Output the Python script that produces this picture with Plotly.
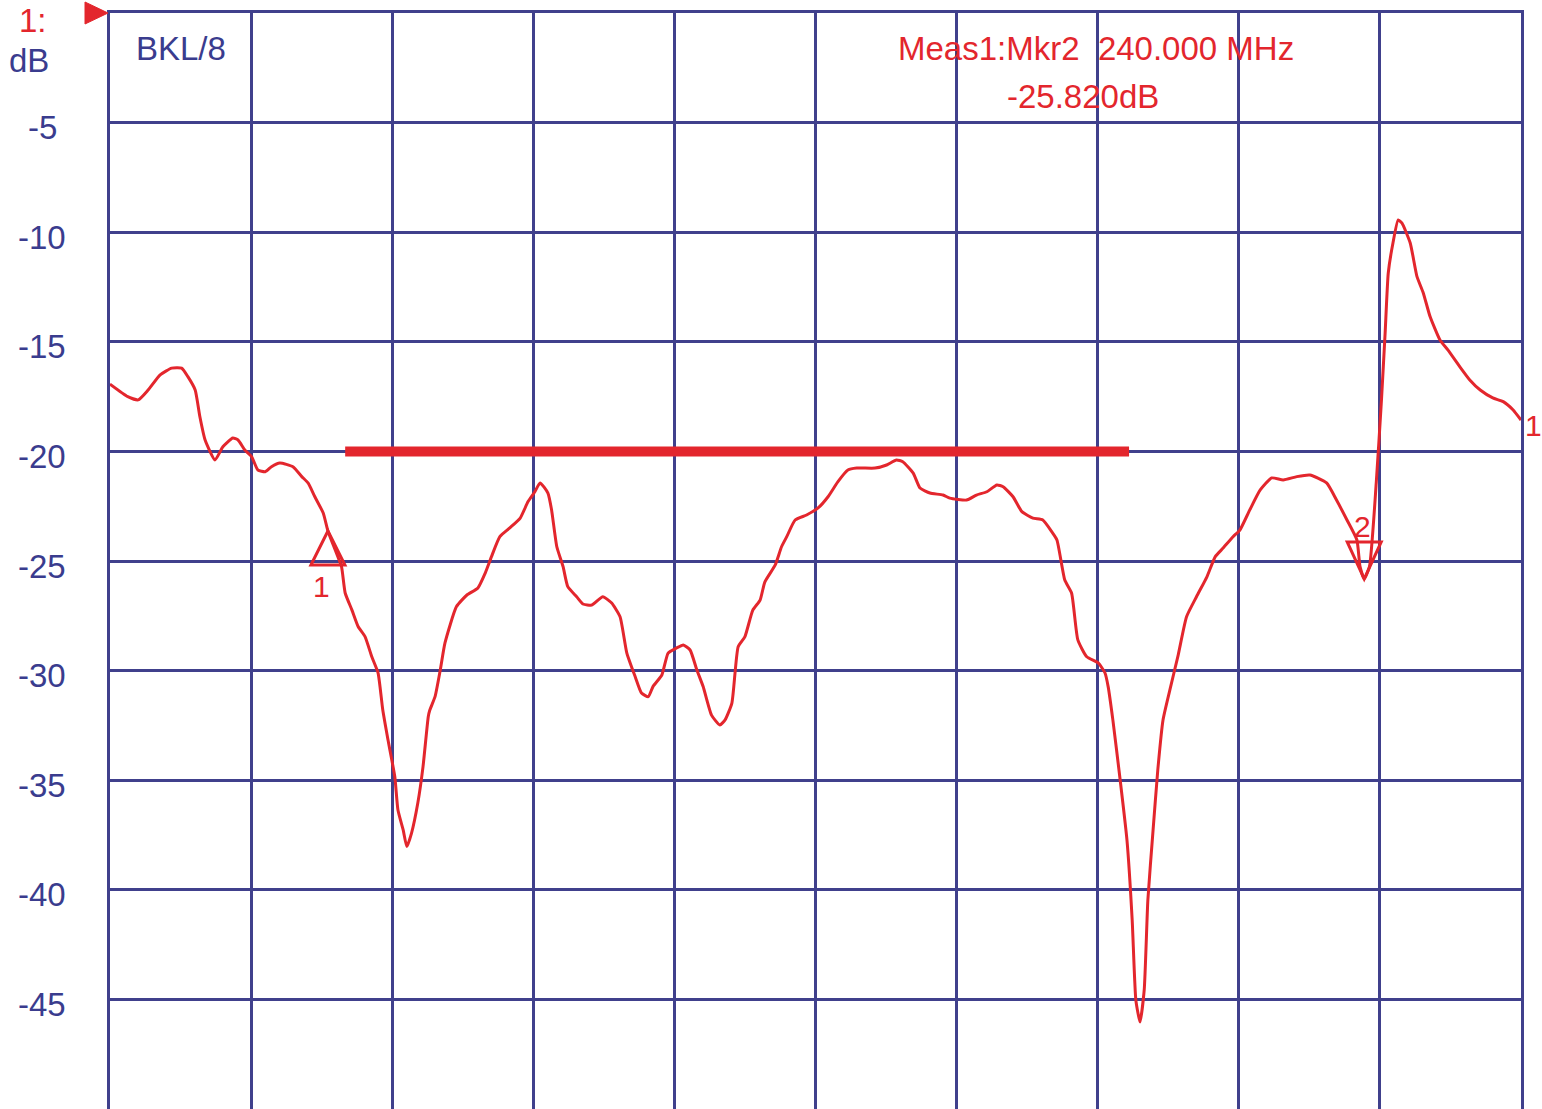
import plotly.graph_objects as go

# ---- data ----
freq_mhz = [0, 3.4, 5.4, 7.3, 9.6, 11.8, 13.7, 14.9, 16.3, 17.2,
            18.2, 20.1, 21.6, 23.5, 24.5, 25.8, 27.1, 28.3, 29.7, 30.9,
            32.5, 35.0, 36.7, 37.9, 39.2, 40.8, 41.7, 43.1, 44.3, 45.0,
            46.3, 47.5, 48.8, 50.1, 51.3, 52.2, 53.2, 54.5, 55.1, 56.1,
            56.8, 57.7, 58.9, 59.9, 60.9, 61.2, 62.2, 63.2, 64.1, 66.3,
            68.3, 70.4, 71.8, 73.0, 74.6, 76.5, 78.5, 80.0, 81.3, 82.3,
            83.8, 84.5, 85.5, 86.7, 87.6, 89.3, 90.5, 92.2, 94.3, 96.0,
            97.6, 98.9, 100.5, 101.7, 103.0, 103.9, 105.6, 106.8, 108.4, 109.7,
            111.0, 112.3, 113.5, 115.1, 116.7, 117.7, 119.0, 120.2, 121.5, 123.0,
            124.4, 125.3, 127.3, 128.5, 129.5, 131.1, 133.3, 135.5, 137.4, 139.3,
            141.2, 142.9, 146.4, 148.6, 150.5, 151.7, 153.7, 155.0, 156.9, 159.4,
            160.7, 163.9, 165.8, 167.8, 169.7, 170.9, 172.8, 174.5, 176.6, 178.5,
            180.2, 181.2, 182.7, 184.0, 185.2, 186.9, 189.1, 190.4, 191.0, 191.9,
            193.3, 194.6, 195.6, 196.3, 197.1, 197.9, 198.6, 199.6, 200.5, 201.5,
            202.8, 204.4, 206.0, 207.9, 209.9, 211.5, 213.0, 214.9, 216.2, 218.1,
            220.1, 222.3, 224.5, 227.1, 229.6, 232.8, 234.7, 236.7, 238.6, 239.2,
            240.0, 241.0, 242.3, 243.3, 244.0, 244.6, 245.5, 246.5, 247.2, 248.8,
            250.1, 251.3, 252.6, 254.5, 256.0, 258.3, 260.2, 262.2, 264.6, 266.6,
            268.5, 270.0]

trace_db = [-16.93, -17.50, -17.65, -17.20, -16.51, -16.20, -16.20, -16.59, -17.20, -18.42,
            -19.48, -20.39, -19.79, -19.39, -19.48, -19.94, -20.24, -20.85, -20.93, -20.70,
            -20.53, -20.70, -21.15, -21.44, -22.07, -22.81, -23.63, -24.50, -25.26, -26.46,
            -27.24, -28.00, -28.45, -29.37, -30.11, -31.80, -33.17, -34.84, -36.36, -37.27,
            -38.03, -37.41, -36.04, -34.38, -32.10, -31.80, -31.19, -29.97, -28.74, -27.08,
            -26.55, -26.23, -25.55, -24.80, -23.89, -23.49, -23.04, -22.29, -21.84, -21.44,
            -21.90, -22.67, -24.35, -25.26, -26.17, -26.63, -26.96, -27.01, -26.63, -26.92,
            -27.54, -29.20, -30.28, -31.02, -31.19, -30.73, -30.20, -29.20, -28.97, -28.83,
            -29.06, -29.97, -30.73, -32.03, -32.48, -32.25, -31.48, -28.91, -28.45, -27.24,
            -26.78, -25.96, -25.18, -24.35, -23.89, -23.13, -22.90, -22.58, -22.07, -21.38,
            -20.85, -20.76, -20.76, -20.62, -20.39, -20.47, -20.99, -21.67, -21.90, -21.99,
            -22.13, -22.22, -21.99, -21.84, -21.53, -21.61, -22.07, -22.75, -23.04, -23.13,
            -23.66, -24.04, -25.87, -26.46, -28.60, -29.37, -29.65, -30.11, -30.73, -32.25,
            -34.99, -37.73, -41.38, -45.03, -46.03, -44.57, -40.46, -37.27, -34.53, -32.25,
            -30.89, -29.29, -27.54, -26.63, -25.72, -24.80, -24.41, -23.89, -23.59, -22.67,
            -21.76, -21.21, -21.30, -21.15, -21.08, -21.44, -22.22, -23.13, -24.04, -25.26,
            -25.82, -25.26, -21.44, -17.65, -14.60, -11.86, -10.49, -9.44, -9.58, -10.49,
            -12.03, -12.77, -13.85, -14.92, -15.37, -16.14, -16.74, -17.20, -17.56, -17.73,
            -18.11, -18.57]

y_tick_vals = [-5, -10, -15, -20, -25, -30, -35, -40, -45]
y_tick_text = ["-5", "-10", "-15", "-20", "-25", "-30", "-35", "-40", "-45"]

limit_start_mhz = [45.0]
limit_stop_mhz = [195.0]
limit_db = [-20.0]

marker_freq = [41.7, 240.0]
marker_db = [-23.63, -25.82]
marker_names = ["1", "2"]

ref_level_db = 0
x_range = [0, 270]
y_range = [-50, 0]

RED = "#E3262D"
BLUE = "#3A3C8E"
GRID = "#40408C"
FONT = "Liberation Sans, Arial, sans-serif"
FS = 33

fig = go.Figure()
fig.add_trace(go.Scatter(x=freq_mhz, y=trace_db, mode="lines",
                         line=dict(color=RED, width=3, shape="spline", smoothing=0.5),
                         hoverinfo="skip", showlegend=False))

shapes = []
# limit line
for xs, xe, yv in zip(limit_start_mhz, limit_stop_mhz, limit_db):
    shapes.append(dict(type="line", xref="x", yref="y", x0=xs, x1=xe, y0=yv, y1=yv,
                       line=dict(color=RED, width=10), layer="above"))

# marker triangles (tip on the trace point)
tri_paths = ["M 0 0 L -17 -34 L 17 -34 Z", "M 0 0 L -17 37 L 17 37 Z"]
for f, d, p in zip(marker_freq, marker_db, tri_paths):
    shapes.append(dict(type="path", xref="x", yref="y", xsizemode="pixel", ysizemode="pixel",
                       xanchor=f, yanchor=d, path=p,
                       line=dict(color=RED, width=3), fillcolor="rgba(0,0,0,0)",
                       layer="above"))

# reference level arrow (left of plot, at the top = reference level)
shapes.append(dict(type="path", xref="paper", yref="paper", xsizemode="pixel", ysizemode="pixel",
                   xanchor=0, yanchor=1,
                   path="M -2 0 L -25 11 L -25 -11 Z",
                   line=dict(color=RED, width=1), fillcolor=RED, layer="above"))

annotations = []
for v, t in zip(y_tick_vals, y_tick_text):
    annotations.append(dict(x=0, xref="paper", y=v, yref="y", text=t, showarrow=False,
                            xanchor="center", yanchor="middle", xshift=-68, yshift=-5,
                            font=dict(family=FONT, size=FS, color=BLUE)))

annotations += [
    dict(x=0, xref="paper", y=ref_level_db, yref="y", text="1:", showarrow=False,
         xanchor="center", yanchor="middle", xshift=-77, yshift=-7,
         font=dict(family=FONT, size=FS, color=RED)),
    dict(x=0, xref="paper", y=ref_level_db, yref="y", text="dB", showarrow=False,
         xanchor="center", yanchor="middle", xshift=-81, yshift=-47,
         font=dict(family=FONT, size=FS, color=BLUE)),
    dict(x=0, xref="paper", y=ref_level_db, yref="y", text="BKL/8", showarrow=False,
         xanchor="center", yanchor="middle", xshift=71, yshift=-35,
         font=dict(family=FONT, size=FS, color=BLUE)),
    dict(x=0.699, xref="paper", y=0.968, yref="paper",
         text="Meas1:Mkr2\u00a0\u00a0%.3f MHz" % marker_freq[1], showarrow=False,
         xanchor="center", yanchor="middle",
         font=dict(family=FONT, size=FS, color=RED)),
    dict(x=0.6895, xref="paper", y=0.9234, yref="paper",
         text="%.3fdB" % marker_db[1], showarrow=False,
         xanchor="center", yanchor="middle",
         font=dict(family=FONT, size=FS, color=RED)),
    # marker labels
    dict(x=marker_freq[0], xref="x", y=marker_db[0], yref="y", text=marker_names[0],
         showarrow=False, xanchor="center", yanchor="middle", xshift=-6, yshift=-56,
         font=dict(family=FONT, size=30, color=RED)),
    dict(x=marker_freq[1], xref="x", y=marker_db[1], yref="y", text=marker_names[1],
         showarrow=False, xanchor="center", yanchor="middle", xshift=-2, yshift=52,
         font=dict(family=FONT, size=30, color=RED)),
    # trace number at right end
    dict(x=freq_mhz[-1], xref="x", y=trace_db[-1], yref="y", text="1",
         showarrow=False, xanchor="left", yanchor="middle", xshift=2, yshift=-5,
         font=dict(family=FONT, size=30, color=RED)),
]

fig.update_layout(
    width=1542, height=1109,
    margin=dict(l=110, r=21, t=13, b=0),
    paper_bgcolor="white", plot_bgcolor="white",
    showlegend=False,
    shapes=shapes, annotations=annotations,
    xaxis=dict(range=x_range, dtick=27, tick0=0, showticklabels=False, ticks="",
               showgrid=True, gridcolor=GRID, gridwidth=2.5, zeroline=False,
               showline=True, linecolor=GRID, linewidth=2.5, mirror=True,
               fixedrange=True),
    yaxis=dict(range=y_range, dtick=5, tick0=0, showticklabels=False, ticks="",
               showgrid=True, gridcolor=GRID, gridwidth=2.5, zeroline=False,
               showline=True, linecolor=GRID, linewidth=2.5, mirror=True,
               fixedrange=True),
)

fig.write_html("out.html", config={"displayModeBar": False},
               post_script="document.body.style.margin='0';")
